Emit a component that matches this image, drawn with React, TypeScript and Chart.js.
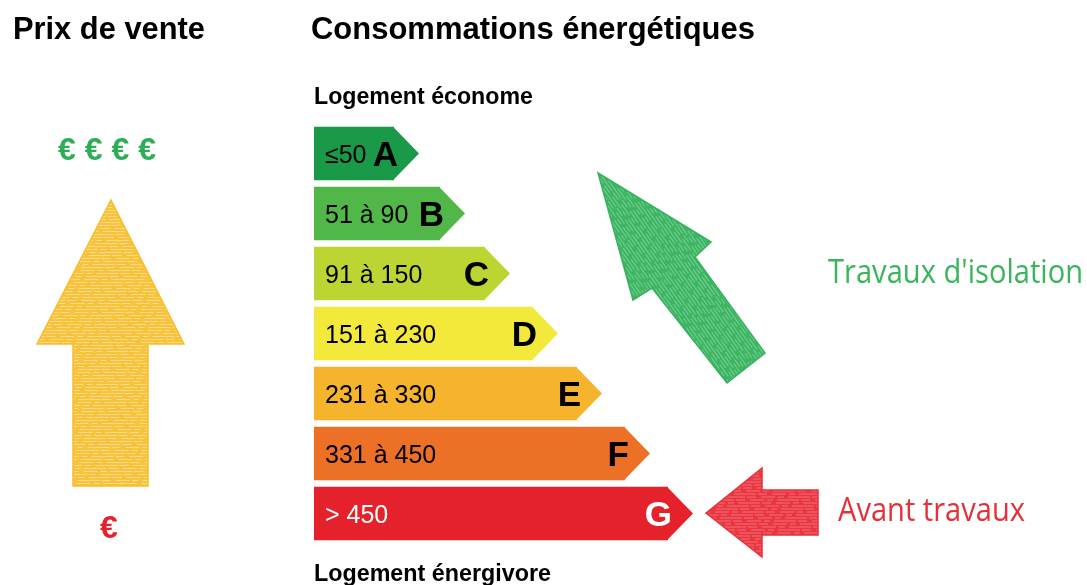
import React, { useEffect, useRef } from "react";
import { Chart, registerables } from "chart.js";

Chart.register(...registerables);

// ---- data ----
const categories = ["A", "B", "C", "D", "E", "F", "G"];
const rangeLabels = ["≤50", "51 à 90", "91 à 150", "151 à 230", "231 à 330", "331 à 450", "> 450"];
const barLengths = [80, 126, 171, 219, 263, 311, 354];
const barColors = ["#1a9a48", "#50b748", "#bdd532", "#f2e93a", "#f5b42b", "#ec7026", "#e5212b"];
const textColors = ["#000000", "#000000", "#000000", "#000000", "#000000", "#000000", "#ffffff"];
const titleLeft = "Prix de vente";
const titleRight = "Consommations énergétiques";
const topLabel = "Logement économe";
const bottomLabel = "Logement énergivore";
const priceHigh = "€ € € €";
const priceLow = "€";
const afterLabel = "Travaux d'isolation";
const beforeLabel = "Avant travaux";

const W = 1087;
const H = 585;
const TIP = 25;

function fitText(
  ctx: CanvasRenderingContext2D,
  text: string,
  x: number,
  baseline: number,
  width: number,
  weight: string,
  family: string,
  color: string
) {
  ctx.save();
  ctx.font = `${weight} 100px ${family}`;
  const m = ctx.measureText(text).width;
  const size = (100 * width) / m;
  ctx.font = `${weight} ${size}px ${family}`;
  ctx.fillStyle = color;
  ctx.textAlign = "left";
  ctx.textBaseline = "alphabetic";
  ctx.fillText(text, x, baseline);
  ctx.restore();
}

function scaledText(
  ctx: CanvasRenderingContext2D,
  text: string,
  x: number,
  baseline: number,
  width: number,
  size: number,
  weight: string,
  family: string,
  color: string
) {
  ctx.save();
  ctx.font = `${weight} ${size}px ${family}`;
  const m = ctx.measureText(text).width;
  ctx.translate(x, baseline);
  ctx.scale(width / m, 1);
  ctx.fillStyle = color;
  ctx.textAlign = "left";
  ctx.textBaseline = "alphabetic";
  ctx.fillText(text, 0, 0);
  ctx.restore();
}

function texturedPolygon(
  ctx: CanvasRenderingContext2D,
  pts: number[][],
  fill: string,
  stroke: string,
  angle: number,
  streak: string
) {
  ctx.save();
  ctx.beginPath();
  pts.forEach((p, i) => (i === 0 ? ctx.moveTo(p[0], p[1]) : ctx.lineTo(p[0], p[1])));
  ctx.closePath();
  ctx.fillStyle = fill;
  ctx.fill();
  ctx.save();
  ctx.clip();
  const xs = pts.map((p) => p[0]);
  const ys = pts.map((p) => p[1]);
  const cx = (Math.min(...xs) + Math.max(...xs)) / 2;
  const cy = (Math.min(...ys) + Math.max(...ys)) / 2;
  const R = Math.max(Math.max(...xs) - Math.min(...xs), Math.max(...ys) - Math.min(...ys));
  ctx.translate(cx, cy);
  ctx.rotate(angle);
  ctx.strokeStyle = streak;
  ctx.lineWidth = 1;
  ctx.setLineDash([14, 3, 6, 4, 22, 2, 9, 5]);
  let k = 0;
  for (let v = -R; v <= R; v += 3) {
    ctx.lineDashOffset = (k * 11) % 37;
    ctx.beginPath();
    ctx.moveTo(-R, v + 0.5);
    ctx.lineTo(R, v + 0.5);
    ctx.stroke();
    k++;
  }
  ctx.restore();
  ctx.beginPath();
  pts.forEach((p, i) => (i === 0 ? ctx.moveTo(p[0], p[1]) : ctx.lineTo(p[0], p[1])));
  ctx.closePath();
  ctx.strokeStyle = stroke;
  ctx.lineWidth = 1.5;
  ctx.stroke();
  ctx.restore();
}

const labelPlugin = {
  id: "energyLabels",
  afterDatasetsDraw(chart: any) {
    const ctx: CanvasRenderingContext2D = chart.ctx;
    const meta = chart.getDatasetMeta(0);
    meta.data.forEach((bar: any, i: number) => {
      const { x, y, height } = bar.getProps(["x", "y", "height"], true);
      const h = height;
      ctx.save();
      ctx.fillStyle = barColors[i];
      ctx.beginPath();
      ctx.moveTo(x - 1, y - h / 2);
      ctx.lineTo(x + TIP, y);
      ctx.lineTo(x - 1, y + h / 2);
      ctx.closePath();
      ctx.fill();
      ctx.fillStyle = textColors[i];
      ctx.textBaseline = "alphabetic";
      ctx.textAlign = "left";
      ctx.font = "25px 'Liberation Sans', Arial, sans-serif";
      ctx.fillText(rangeLabels[i], chart.chartArea.left + 11, y + 9);
      ctx.textAlign = "right";
      ctx.font = "bold 35px 'Liberation Sans', Arial, sans-serif";
      ctx.fillText(categories[i], x + 4, y + 12.5);
      ctx.restore();
    });

    const AR = "'Liberation Sans', Arial, sans-serif";
    fitText(ctx, titleLeft, 13, 39, 192, "bold", AR, "#000000");
    fitText(ctx, titleRight, 311, 39, 444, "bold", AR, "#000000");
    fitText(ctx, topLabel, 314, 104, 219, "bold", AR, "#000000");
    fitText(ctx, bottomLabel, 314, 581, 237, "bold", AR, "#000000");

    ctx.save();
    ctx.font = `bold 32px ${AR}`;
    ctx.fillStyle = "#2bae55";
    ctx.textAlign = "center";
    ctx.fillText(priceHigh, 107, 160);
    ctx.fillStyle = "#e8202a";
    ctx.fillText(priceLow, 109, 538);
    ctx.restore();

    // yellow price arrow
    texturedPolygon(
      ctx,
      [[111, 200], [184, 344], [148, 344], [148, 486], [73, 486], [73, 344], [37, 344]],
      "#f8c33a",
      "#f7bd2a",
      0,
      "rgba(255,255,255,0.4)"
    );
    // green arrow (after works)
    const ang = Math.atan2(383 - 173, 746 - 598);
    texturedPolygon(
      ctx,
      [[598, 173], [711, 242], [695, 257], [765, 353], [727, 383], [652, 288], [633, 300]],
      "#3db664",
      "#34b25c",
      ang,
      "rgba(255,255,255,0.3)"
    );
    // red arrow (before works)
    texturedPolygon(
      ctx,
      [[706, 513], [762, 468], [762, 490], [818, 490], [818, 535], [762, 535], [762, 557]],
      "#e93640",
      "#e5323b",
      0,
      "rgba(255,255,255,0.3)"
    );

    const DIN = "'Open Sans', 'DejaVu Sans', sans-serif";
    scaledText(ctx, afterLabel, 828, 283, 255, 32, "normal", DIN, "#3ab55c");
    scaledText(ctx, beforeLabel, 838, 521, 187, 32, "normal", DIN, "#e63038");
  },
};

export default function App() {
  const ref = useRef<HTMLCanvasElement | null>(null);
  useEffect(() => {
    if (!ref.current) return;
    const chart = new Chart(ref.current, {
      type: "bar",
      data: {
        labels: categories,
        datasets: [
          {
            data: barLengths,
            backgroundColor: barColors,
            borderWidth: 0,
            barPercentage: 1,
            categoryPercentage: 53.3 / 60,
          },
        ],
      },
      options: {
        indexAxis: "y",
        responsive: false,
        animation: false,
        devicePixelRatio: 1,
        layout: { padding: { left: 314, right: 0, top: 123.5, bottom: 41.5 } },
        plugins: { legend: { display: false }, tooltip: { enabled: false } },
        scales: {
          x: { type: "linear", min: 0, max: W - 314, display: false },
          y: { display: false },
        },
      },
      plugins: [labelPlugin],
    } as any);
    return () => chart.destroy();
  }, []);
  return (
    <div style={{ position: "fixed", left: 0, top: 0, width: W, height: H, background: "#ffffff" }}>
      <canvas ref={ref} width={W} height={H} style={{ display: "block", width: W, height: H }} />
    </div>
  );
}
